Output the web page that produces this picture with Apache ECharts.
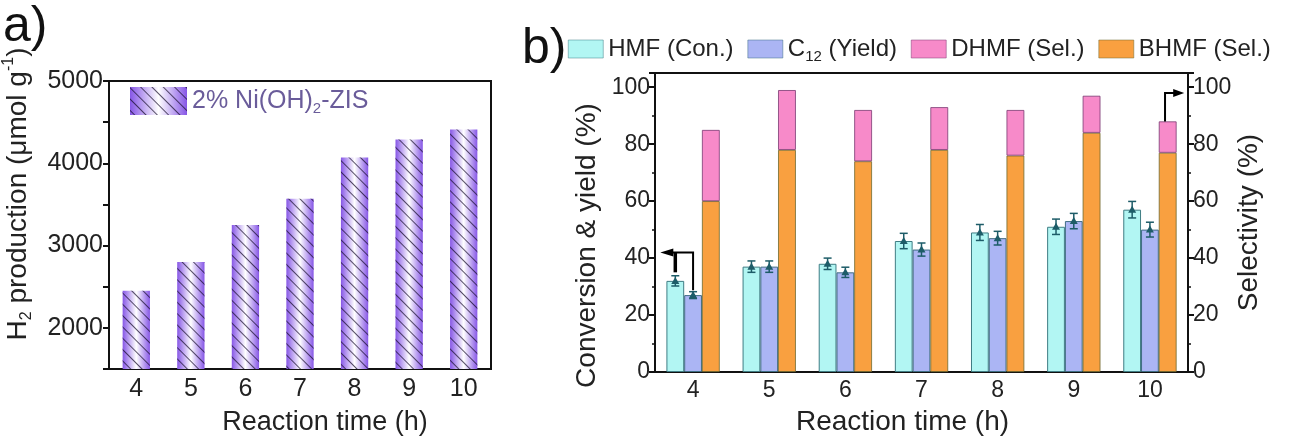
<!DOCTYPE html>
<html>
<head>
<meta charset="utf-8">
<script src="https://cdn.jsdelivr.net/npm/echarts@6/dist/echarts.min.js"></script>
<style>
  html, body { margin: 0; padding: 0; background: #fff; }
  #chart { width: 1290px; height: 441px; }
</style>
</head>
<body>
<div id="chart"></div>
<script>
// 横轴：反应时间 (h)
const hours = ['4', '5', '6', '7', '8', '9', '10'];

// a) H2 产量
const h2Production = [2450, 2800, 3250, 3570, 4070, 4290, 4410];

// b) 转化率 / 收率 / 选择性
const hmfConversion = [32, 37, 38, 46, 49, 51, 57];
const hmfError = [1.8, 2, 2, 2.7, 2.8, 2.7, 2.9];
const c12Yield = [27, 37, 35, 43, 47, 53, 50];
const c12Error = [1.2, 2, 1.8, 2.3, 2.4, 2.7, 2.6];
const bhmfSel = [60, 78, 74, 78, 76, 84, 77];
const dhmfSel = [25, 21, 18, 15, 16, 13, 11];

// 箭头标注: [类目, 水平线高度, HMF 端, C12 端] / [类目, 顶端, 底端]
const leftArrow = [['4', 42, 35, 28.7]];
const rightArrow = [['10', 98, 88]];

const FONT = 'Liberation Sans, Arial, sans-serif';
const ERR_COLOR = '#1d5c68';

const chart = echarts.init(document.getElementById('chart'));

// 误差棒，offset = -1 对应 HMF 柱，0 对应 C12 柱
function errorBar(offset) {
  return function (params, api) {
    const i = api.value(0), v = api.value(1), e = api.value(2);
    const band = api.size([1, 0])[0];
    const dx = offset * band * 0.7 / 3;
    const top = api.coord([i, v + e]);
    const bot = api.coord([i, v - e]);
    const mid = api.coord([i, v]);
    const x = top[0] + dx;
    const cw = 4;
    const st = { stroke: ERR_COLOR, lineWidth: 1.5 };
    return {
      type: 'group',
      children: [
        { type: 'line', shape: { x1: x, y1: top[1], x2: x, y2: bot[1] }, style: st },
        { type: 'line', shape: { x1: x - cw, y1: top[1], x2: x + cw, y2: top[1] }, style: st },
        { type: 'line', shape: { x1: x - cw, y1: bot[1], x2: x + cw, y2: bot[1] }, style: st },
        { type: 'polygon', shape: { points: [[x - 4, mid[1] + 3], [x + 4, mid[1] + 3], [x, mid[1] - 4]] }, style: { fill: ERR_COLOR } }
      ]
    };
  };
}

const axisLabelA = { color: '#222', fontSize: 25, fontFamily: FONT };
const axisLabelB = { color: '#222', fontSize: 23, fontFamily: FONT };
const lineStyle = { color: '#111', width: 2 };

chart.setOption({
  animation: false,
  textStyle: { fontFamily: FONT },
  graphic: [
    { type: 'text', left: 3, top: 2, style: { text: 'a)', fontSize: 50, fontFamily: FONT, fill: '#111' } },
    { type: 'text', left: 522, top: 24, style: { text: 'b)', fontSize: 50, fontFamily: FONT, fill: '#111' } }
  ],
  legend: [
    {
      left: 130, top: 86, icon: 'rect', padding: 0,
      itemWidth: 57, itemHeight: 28, itemGap: 0,
      data: ['2% Ni(OH)2-ZIS'],
      formatter: () => '2% Ni(OH){sub|2}-ZIS',
      textStyle: {
        color: '#6a5c9a', fontSize: 25, lineHeight: 30, fontFamily: FONT,
        rich: { sub: { fontSize: 15, verticalAlign: 'bottom', color: '#6a5c9a', fontFamily: FONT } }
      }
    },
    {
      left: 568, top: 34, icon: 'rect', padding: 0,
      itemWidth: 35, itemHeight: 18, itemGap: 14,
      itemStyle: { borderWidth: 0.5 },
      data: ['HMF (Con.)', 'C12 (Yield)', 'DHMF (Sel.)', 'BHMF (Sel.)'],
      formatter: name => name === 'C12 (Yield)' ? 'C{sub|12} (Yield)' : name,
      textStyle: {
        color: '#222', fontSize: 24, lineHeight: 30, fontFamily: FONT,
        rich: { sub: { fontSize: 15, verticalAlign: 'bottom', color: '#222', fontFamily: FONT } }
      }
    }
  ],
  grid: [
    { left: 108, right: 799, top: 81, bottom: 67, show: true, borderColor: '#111', borderWidth: 2 },
    { left: 655, right: 102, top: 73, bottom: 68, show: true, borderColor: '#111', borderWidth: 2 }
  ],
  xAxis: [
    {
      gridIndex: 0, type: 'category', data: hours,
      axisLine: { lineStyle: lineStyle },
      axisTick: { alignWithLabel: true, length: 6, lineStyle: lineStyle },
      axisLabel: Object.assign({ margin: 8 }, axisLabelA),
      name: 'Reaction time (h)', nameLocation: 'middle', nameGap: 40,
      nameTextStyle: { color: '#222', fontSize: 27, fontFamily: FONT, padding: [0, 0, 0, 50] }
    },
    {
      gridIndex: 1, type: 'category', data: hours,
      axisLine: { lineStyle: lineStyle },
      axisTick: { alignWithLabel: true, length: 6, lineStyle: lineStyle },
      axisLabel: Object.assign({ margin: 7 }, axisLabelB),
      name: 'Reaction time (h)', nameLocation: 'middle', nameGap: 36,
      nameTextStyle: { color: '#222', fontSize: 28, fontFamily: FONT, padding: [0, 38, 0, 0] }
    }
  ],
  yAxis: [
    {
      gridIndex: 0, type: 'value', min: 1500, max: 5000, interval: 500,
      axisLine: { show: true, lineStyle: lineStyle },
      axisTick: { show: true, length: 6, lineStyle: lineStyle },
      axisLabel: Object.assign({ margin: 6, formatter: v => (v % 1000 === 0 ? v : '') }, axisLabelA),
      splitLine: { show: false },
      name: '{t|H}{sub|2}{t| production (μmol g}{sup|-1}{t|)}',
      nameLocation: 'middle', nameGap: 74, nameRotate: 90,
      nameTextStyle: {
        color: '#222', fontSize: 28, lineHeight: 34, fontFamily: FONT, padding: [0, 0, 0, 62],
        rich: {
          t: { fontSize: 28, color: '#222', fontFamily: FONT },
          sub: { fontSize: 16, verticalAlign: 'bottom', color: '#222', fontFamily: FONT },
          sup: { fontSize: 16, verticalAlign: 'top', color: '#222', fontFamily: FONT }
        }
      }
    },
    {
      gridIndex: 1, type: 'value', min: 0, max: 105, interval: 20,
      axisLine: { show: true, lineStyle: lineStyle },
      axisTick: { show: true, length: 6, lineStyle: lineStyle },
      minorTick: { show: true, splitNumber: 2, length: 3, lineStyle: { color: '#111', width: 1.5 } },
      axisLabel: Object.assign({ margin: 5, showMaxLabel: false }, axisLabelB),
      splitLine: { show: false },
      name: 'Conversion & yield (%)', nameLocation: 'middle', nameGap: 54, nameRotate: 90,
      nameTextStyle: { color: '#222', fontSize: 28, fontFamily: FONT, padding: [0, 46, 0, 0] }
    },
    {
      gridIndex: 1, type: 'value', position: 'right', min: 0, max: 105, interval: 20,
      axisLine: { show: true, lineStyle: lineStyle },
      axisTick: { show: true, length: 6, lineStyle: lineStyle },
      minorTick: { show: true, splitNumber: 2, length: 3, lineStyle: { color: '#111', width: 1.5 } },
      axisLabel: Object.assign({ margin: 5, showMaxLabel: false }, axisLabelB),
      splitLine: { show: false },
      name: 'Selectivity (%)', nameLocation: 'middle', nameGap: 46, nameRotate: 90,
      nameTextStyle: { color: '#222', fontSize: 28, fontFamily: FONT }
    }
  ],
  series: [
    {
      name: '2% Ni(OH)2-ZIS', type: 'bar', xAxisIndex: 0, yAxisIndex: 0,
      barWidth: '50%',
      data: h2Production,
      itemStyle: {
        color: new echarts.graphic.LinearGradient(0, 0, 1, 0, [
          { offset: 0, color: '#8656e6' },
          { offset: 0.5, color: '#ffffff' },
          { offset: 1, color: '#8656e6' }
        ]),
        decal: {
          symbol: 'rect', symbolSize: 1,
          dashArrayX: [1, 0], dashArrayY: [1, 7],
          rotation: Math.PI / 4, color: 'rgba(20,10,40,0.7)'
        }
      }
    },
    {
      name: 'HMF (Con.)', type: 'bar', xAxisIndex: 1, yAxisIndex: 1,
      barCategoryGap: '30%', barGap: '0%',
      data: hmfConversion,
      itemStyle: { color: '#b2f6f3', borderColor: '#3f7d84', borderWidth: 1 }
    },
    {
      name: 'C12 (Yield)', type: 'bar', xAxisIndex: 1, yAxisIndex: 1,
      barGap: '0%',
      data: c12Yield,
      itemStyle: { color: '#abb5f4', borderColor: '#3f6d84', borderWidth: 1 }
    },
    {
      name: 'BHMF (Sel.)', type: 'bar', xAxisIndex: 1, yAxisIndex: 2,
      stack: 'sel', barGap: '0%',
      data: bhmfSel,
      itemStyle: { color: '#f9a040', borderColor: '#6f6a30', borderWidth: 0.8 }
    },
    {
      name: 'DHMF (Sel.)', type: 'bar', xAxisIndex: 1, yAxisIndex: 2,
      stack: 'sel', barGap: '0%',
      data: dhmfSel,
      itemStyle: { color: '#f78ac9', borderColor: '#7a3a72', borderWidth: 0.8 }
    },
    {
      type: 'custom', xAxisIndex: 1, yAxisIndex: 1, z: 5,
      encode: { x: 0, y: 1 },
      data: hmfConversion.map((v, i) => [i, v, hmfError[i]]),
      renderItem: errorBar(-1)
    },
    {
      type: 'custom', xAxisIndex: 1, yAxisIndex: 1, z: 5,
      encode: { x: 0, y: 1 },
      data: c12Yield.map((v, i) => [i, v, c12Error[i]]),
      renderItem: errorBar(0)
    },
    {
      // 左侧箭头 -> 左轴
      type: 'custom', xAxisIndex: 1, yAxisIndex: 1, z: 6,
      encode: { x: 0, y: 1 },
      data: leftArrow,
      renderItem: function (params, api) {
        const band = api.size([1, 0])[0];
        const bw = band * 0.7 / 3;
        const c = api.coord([api.value(0), api.value(1)]);
        const yH = api.coord([api.value(0), api.value(2)])[1];
        const yC = api.coord([api.value(0), api.value(3)])[1];
        const xH = c[0] - bw, xC = c[0];
        const tip = c[0] - band * 0.43;
        return {
          type: 'group',
          children: [
            { type: 'polyline', shape: { points: [[tip + 8, c[1]], [xC, c[1]], [xC, yC]] }, style: { stroke: '#000', lineWidth: 2, fill: null } },
            { type: 'line', shape: { x1: xH, y1: c[1], x2: xH, y2: yH }, style: { stroke: '#000', lineWidth: 3.5 } },
            { type: 'polygon', shape: { points: [[tip, c[1]], [tip + 13, c[1] - 4], [tip + 13, c[1] + 4]] }, style: { fill: '#000' } }
          ]
        };
      }
    },
    {
      // 右侧箭头 -> 右轴
      type: 'custom', xAxisIndex: 1, yAxisIndex: 2, z: 6,
      encode: { x: 0, y: 1 },
      data: rightArrow,
      renderItem: function (params, api) {
        const band = api.size([1, 0])[0];
        const bw = band * 0.7 / 3;
        const top = api.coord([api.value(0), api.value(1)]);
        const bot = api.coord([api.value(0), api.value(2)]);
        const x = top[0] + bw * 0.85;
        const tip = top[0] + band * 0.45;
        return {
          type: 'group',
          children: [
            { type: 'polyline', shape: { points: [[x, bot[1]], [x, top[1]], [tip - 8, top[1]]] }, style: { stroke: '#000', lineWidth: 2, fill: null } },
            { type: 'polygon', shape: { points: [[tip, top[1]], [tip - 11, top[1] - 4], [tip - 11, top[1] + 4]] }, style: { fill: '#000' } }
          ]
        };
      }
    }
  ]
});
</script>
</body>
</html>
